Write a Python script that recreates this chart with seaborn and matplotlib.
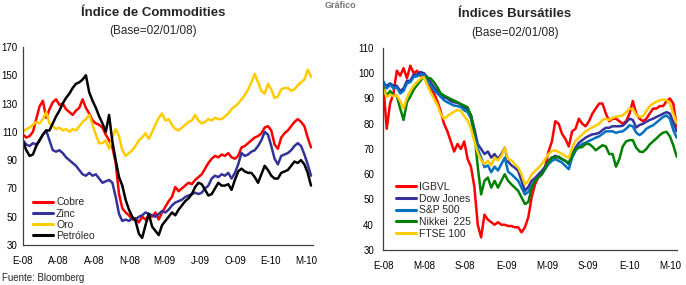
import pandas as pd
import matplotlib
matplotlib.use("Agg")
import matplotlib.pyplot as plt
import seaborn as sns

# --- datos (muestreo cada 10 días desde 02/01/08, base=100) ---
FECHA_INICIO = '2008-01-02'

cobre = [108, 106, 107, 110, 119, 128, 132, 120, 126, 131,
         133, 129, 130, 126, 124, 122, 125, 127, 133, 127,
         123, 118, 116, 115, 113, 108, 104, 99, 88, 66,
         56, 53, 51, 48, 49, 46, 50, 48, 51, 50,
         53, 48, 53, 57, 61, 64, 71, 68, 70, 72,
         74, 73, 76, 78, 80, 84, 88, 91, 93, 92,
         94, 93, 95, 92, 91, 93, 99, 100, 102, 104,
         106, 107, 109, 113, 114, 111, 101, 98, 106, 109,
         111, 114, 117, 119, 117, 114, 106, 99]
zinc = [104, 101, 100, 102, 101, 104, 108, 111, 104, 97,
        96, 97, 95, 92, 90, 88, 86, 83, 80, 79,
        81, 79, 80, 77, 74, 75, 76, 74, 64, 52,
        47, 48, 47, 49, 48, 50, 51, 53, 52, 51,
        50, 52, 54, 53, 55, 58, 60, 61, 62, 64,
        65, 66, 67, 66, 67, 70, 72, 77, 79, 78,
        80, 79, 81, 77, 81, 87, 95, 93, 94, 96,
        97, 100, 104, 110, 108, 100, 91, 87, 93, 94,
        95, 97, 100, 102, 100, 94, 87, 79]
oro = [110, 112, 113, 115, 117, 116, 119, 124, 116, 114,
       112, 113, 111, 112, 110, 112, 111, 114, 117, 119,
       122, 115, 108, 102, 102, 104, 98, 106, 112, 107,
       97, 93, 95, 97, 100, 104, 106, 109, 105, 110,
       115, 120, 123, 118, 119, 115, 112, 111, 113, 115,
       117, 118, 122, 118, 116, 117, 119, 118, 120, 119,
       119, 121, 123, 126, 128, 130, 133, 136, 140, 145,
       151, 145, 139, 137, 144, 140, 134, 135, 140, 141,
       141, 139, 140, 143, 145, 147, 154, 149]
petroleo = [103, 97, 93, 94, 100, 104, 108, 111, 111, 116,
            121, 125, 130, 134, 137, 141, 144, 145, 147, 150,
            138, 132, 127, 121, 116, 110, 122, 103, 90, 78,
            72, 62, 55, 50, 47, 38, 35, 44, 52, 43,
            40, 37, 44, 47, 50, 53, 51, 55, 58, 61,
            63, 66, 71, 74, 73, 69, 65, 66, 70, 74,
            72, 72, 73, 69, 76, 82, 84, 82, 81, 81,
            78, 74, 80, 86, 83, 79, 77, 77, 81, 82,
            83, 86, 89, 88, 90, 87, 81, 72]

igbvl = [95, 78, 88, 92, 101, 99, 102, 98, 103, 100,
         101, 99, 100, 96, 94, 92, 89, 85, 80, 77,
         73, 69, 72, 70, 73, 66, 63, 55, 40, 35,
         44, 42, 41, 40, 41, 40, 40, 39.5, 39.5, 39,
         39, 37, 39, 43, 51, 56, 59, 60, 63, 69,
         73, 81, 80, 76, 74, 71, 77, 78, 82, 80,
         79, 81, 84, 86, 88, 88, 84, 81, 82, 82,
         81, 80, 81, 84, 89, 84, 82, 81, 82, 84,
         86, 86, 87, 87, 89, 90, 88, 79]
dow_jones = [96, 95, 96, 95, 95, 93, 94, 97, 97, 99.5,
             99.5, 100.5, 100, 98.5, 96.5, 94.5, 93, 92, 90.5, 90,
             89, 88.5, 88.3, 87.6, 86.5, 85.7, 83.5, 78, 72, 70,
             68, 69, 66.6, 68, 66, 68, 70.5, 65, 63.5, 62.6,
             61.3, 57.4, 53.4, 55, 57.4, 58.5, 60, 61.3, 63, 65.3,
             66.6, 67.3, 66.6, 66, 65.3, 64, 68, 70.5, 72.5, 73.5,
             74.5, 75.2, 75.8, 76, 76.4, 77.5, 78.4, 78.4, 79, 79,
             79, 79.2, 80.5, 82, 81.5, 78.5, 79.5, 80, 80.8, 81.5,
             82, 82.7, 83.3, 84, 84.6, 84, 80.5, 77]
sp500 = [96.8, 94, 95.5, 94, 94.5, 92, 93, 96, 96.5, 98.5,
         98.8, 99.5, 99.5, 97.2, 95.3, 93.3, 92, 90.7, 89.3, 88.5,
         87.8, 87.2, 87, 86.6, 85.3, 84.6, 82, 76, 70, 66.6,
         62.8, 63.5, 60.8, 63, 61.5, 64, 66.6, 61, 60, 58.7,
         57.4, 54.7, 52, 53, 55.5, 57.4, 58.7, 60, 62, 64,
         65.3, 66, 65.3, 64.6, 63.3, 62, 66.6, 69.2, 71, 72,
         72.5, 73.2, 73.8, 74.5, 75, 76, 77, 77, 77, 76.4,
         76.8, 77, 78, 79.4, 79, 76.5, 75.5, 76.5, 78, 78.8,
         79.4, 80.5, 81.6, 82.7, 83.3, 82, 77.5, 74.5]
nikkei = [94.2, 91, 93, 91.3, 91, 86, 81.5, 88.5, 90.8, 93.5,
          95.3, 97, 98.5, 98.2, 98, 96.5, 94.5, 92, 91.2, 90.5,
          89.8, 89.2, 88.5, 87.8, 87.2, 86.5, 83, 76, 63, 52,
          57.4, 58.7, 54.7, 57.4, 54.7, 57.4, 60, 57.4, 56, 54.7,
          53.4, 50.8, 48.2, 49, 54.7, 57.4, 58.7, 60, 62.3, 65,
          66.6, 66.6, 67, 66, 65.3, 64.5, 67.5, 70, 70.5, 70.8,
          72, 72, 71, 69.5, 70.5, 71.5, 71, 68, 68, 63,
          66, 71, 73, 73.5, 73.5, 70.5, 69, 68.8, 70, 71.8,
          73, 74.2, 75.5, 76.5, 76.8, 75, 71.5, 67]
ftse = [93.6, 90.5, 91.5, 91, 91.2, 89, 86, 90.5, 93, 95,
        96.5, 97.8, 98.5, 95.5, 92.5, 90, 87.5, 84, 82, 83,
        84, 84.8, 85.5, 85, 83, 81.3, 78, 73, 68.5, 65.5,
        64, 65.3, 63.5, 66.6, 65.5, 67.2, 70.5, 66, 65.5, 64,
        62.6, 60, 56, 57.4, 60, 61.3, 62.5, 64, 66, 68,
        69.2, 69.5, 68.8, 68, 67.2, 66.5, 70.5, 73.2, 74.5, 75.8,
        77, 77.8, 78.6, 79.2, 80, 81.5, 82, 81.5, 82.4, 82.8,
        83, 83.3, 84.5, 86, 85.8, 83.5, 82.7, 83, 85, 87,
        88, 88.7, 89.3, 89.6, 89.4, 88, 84, 80.3]

etiquetas_izq = ['E-08', 'A-08', 'A-08', 'N-08', 'M-09', 'J-09', 'O-09', 'E-10', 'M-10']
etiquetas_der = ['E-08', 'M-08', 'S-08', 'E-09', 'M-09', 'S-09', 'E-10', 'M-10']

commodities = {'Cobre': cobre, 'Zinc': zinc, 'Oro': oro, 'Petróleo': petroleo}
bolsas = {'IGBVL': igbvl, 'Dow Jones': dow_jones, 'S&P 500': sp500,
          'Nikkei  225': nikkei, 'FTSE 100': ftse}

colores_izq = {'Cobre': '#FF0000', 'Zinc': '#333399', 'Oro': '#FFCC00', 'Petróleo': '#000000'}
colores_der = {'IGBVL': '#FF0000', 'Dow Jones': '#333399', 'S&P 500': '#0070C0',
               'Nikkei  225': '#008000', 'FTSE 100': '#FFCC00'}


def a_largo(series):
    fechas = pd.date_range(FECHA_INICIO, periods=len(next(iter(series.values()))), freq='10D')
    filas = []
    for nombre, vals in series.items():
        for f, v in zip(fechas, vals):
            filas.append({'Fecha': f, 'Indice': v, 'Serie': nombre})
    return pd.DataFrame(filas)


def estilo_eje(ax, ylen=3, ypad=3.5):
    sns.despine(ax=ax)
    for s in ['left', 'bottom']:
        ax.spines[s].set_color('#404040')
        ax.spines[s].set_linewidth(0.9)
    ax.tick_params(axis='y', direction='out', length=ylen, width=0.8, pad=ypad,
                   labelsize=7, colors='#404040', labelcolor='black')
    ax.tick_params(axis='x', direction='inout', length=4, width=0.8, pad=6,
                   labelsize=7, colors='#404040', labelcolor='black')
    ax.set_xlabel('')
    ax.set_ylabel('')
    ax.grid(False)


def main():
    sns.set_theme(style='white')
    plt.rcParams['font.family'] = ['Liberation Sans', 'DejaVu Sans']

    fig = plt.figure(figsize=(6.86, 2.85), dpi=100)
    ax1 = fig.add_axes([23 / 686, 1 - 245 / 285, 290 / 686, 198 / 285])
    ax2 = fig.add_axes([383 / 686, 1 - 250 / 285, 294 / 686, 202 / 285])

    # --- Índice de Commodities ---
    df1 = a_largo(commodities)
    sns.lineplot(data=df1, x='Fecha', y='Indice', hue='Serie', hue_order=list(commodities),
                 palette=colores_izq, linewidth=1.8, ax=ax1, legend=False)
    ax1.set_ylim(30, 170)
    ax1.set_yticks(range(30, 171, 20))
    ax1.set_xlim(pd.Timestamp('2008-01-02'), pd.Timestamp('2008-01-02') + pd.Timedelta(days=876))
    ax1.set_xticks(pd.date_range('2008-01-02', periods=len(etiquetas_izq), freq='107D'))
    ax1.set_xticklabels(etiquetas_izq)
    estilo_eje(ax1, ylen=2.5, ypad=1.5)
    h1 = [plt.Line2D([], [], color=colores_izq[k], lw=2.2) for k in commodities]
    ax1.legend(h1, list(commodities), loc='lower left', bbox_to_anchor=(0.035, 0.02),
               frameon=False, fontsize=7.5, handlelength=1.9, handletextpad=0.3,
               labelspacing=0.12, borderpad=0, borderaxespad=0)

    # --- Índices Bursátiles ---
    df2 = a_largo(bolsas)
    sns.lineplot(data=df2, x='Fecha', y='Indice', hue='Serie', hue_order=list(bolsas),
                 palette=colores_der, linewidth=1.8, ax=ax2, legend=False)
    ax2.set_ylim(30, 110)
    ax2.set_yticks(range(30, 111, 10))
    ax2.set_xlim(pd.Timestamp('2008-01-01'), pd.Timestamp('2008-01-01') + pd.Timedelta(days=872))
    ax2.set_xticks(pd.date_range('2008-01-01', periods=len(etiquetas_der), freq='4MS'))
    ax2.set_xticklabels(etiquetas_der)
    estilo_eje(ax2)
    h2 = [plt.Line2D([], [], color=colores_der[k], lw=2.2) for k in bolsas]
    ax2.legend(h2, list(bolsas), loc='lower left', bbox_to_anchor=(0.044, 0.055),
               frameon=False, fontsize=7.5, handlelength=1.9, handletextpad=0.3,
               labelspacing=0.17, borderpad=0, borderaxespad=0)

    # --- títulos y textos ---
    fig.text(153 / 686, 1 - 12.5 / 285, 'Índice de Commodities', ha='center', va='center',
             fontsize=9.5, fontweight='bold')
    fig.text(153 / 686, 1 - 31 / 285, '(Base=02/01/08)', ha='center', va='center', fontsize=8.5)
    fig.text(515 / 686, 1 - 14 / 285, 'Índices Bursátiles', ha='center', va='center',
             fontsize=9.5, fontweight='bold')
    fig.text(515 / 686, 1 - 33 / 285, '(Base=02/01/08)', ha='center', va='center', fontsize=8.5)
    fig.text(340 / 686, 1 - 1 / 285, 'Gráfico', ha='center', va='top',
             fontsize=6.5, fontweight='bold', color='#777777')
    fig.text(2 / 686, 1 - 273 / 285, 'Fuente: Bloomberg', ha='left', va='top', fontsize=7)

    fig.savefig('out.png', dpi=100)


if __name__ == '__main__':
    main()
